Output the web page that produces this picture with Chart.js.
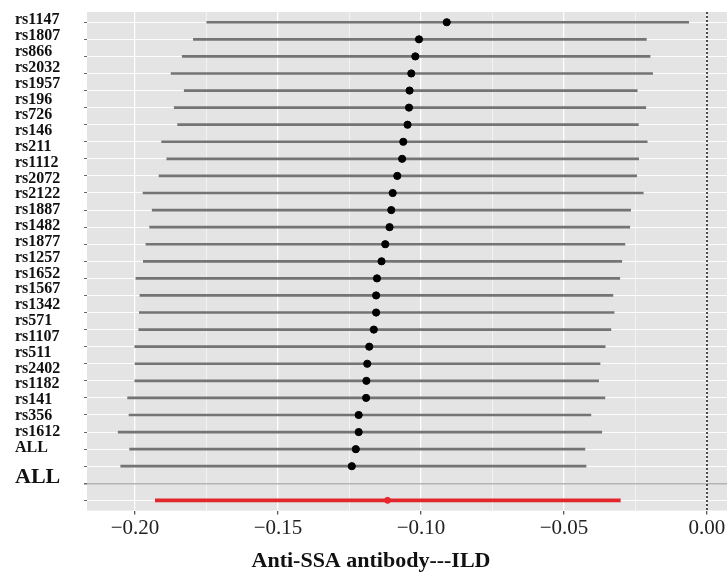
<!DOCTYPE html>
<html>
<head>
<meta charset="utf-8">
<script src="https://cdn.jsdelivr.net/npm/chart.js@4.4.1/dist/chart.umd.min.js"></script>
<style>
  body { margin: 0; background: #fff; overflow: hidden; }
</style>
</head>
<body>
<canvas id="forest" width="727" height="576"></canvas>
<script>
// labels shown on the left, top to bottom (last one is the overall label)
const snpLabels = ['rs1147', 'rs1807', 'rs866', 'rs2032', 'rs1957', 'rs196', 'rs726', 'rs146', 'rs211',
    'rs1112', 'rs2072', 'rs2122', 'rs1887', 'rs1482', 'rs1877', 'rs1257', 'rs1652', 'rs1567', 'rs1342',
    'rs571', 'rs1107', 'rs511', 'rs2402', 'rs1182', 'rs141', 'rs356', 'rs1612', 'ALL'];
const overallLabel = 'ALL';

// leave-one-out estimates and 95% CI
const estimate = [-0.0910, -0.1007, -0.1020, -0.1034, -0.1040, -0.1042, -0.1047, -0.1062, -0.1066,
    -0.1083, -0.1099, -0.1104, -0.1110, -0.1125, -0.1138, -0.1154, -0.1157, -0.1157, -0.1165,
    -0.1181, -0.1188, -0.1191, -0.1192, -0.1218, -0.1218, -0.1228, -0.1242];
const ciLow = [-0.1749, -0.1796, -0.1835, -0.1874, -0.1828, -0.1863, -0.1851, -0.1907, -0.1889,
    -0.1916, -0.1972, -0.1940, -0.1949, -0.1962, -0.1971, -0.1997, -0.1983, -0.1985, -0.1987,
    -0.2001, -0.2000, -0.2001, -0.2026, -0.2021, -0.2059, -0.2019, -0.2050];
const ciHigh = [-0.0064, -0.0212, -0.0199, -0.0190, -0.0244, -0.0214, -0.0240, -0.0209, -0.0239,
    -0.0246, -0.0223, -0.0267, -0.0270, -0.0287, -0.0298, -0.0305, -0.0329, -0.0325, -0.0336,
    -0.0356, -0.0374, -0.0379, -0.0357, -0.0406, -0.0368, -0.0427, -0.0423];

// overall (all SNPs) result
const allEstimate = [-0.1117];
const allLow = [-0.1929];
const allHigh = [-0.0303];

const xMajorTicks = [-0.2, -0.15, -0.1, -0.05, 0];
const xMinorTicks = [-0.175, -0.125, -0.075, -0.025];
const refValue = 0;

const FONT = "'Liberation Serif', 'Times New Roman', serif";
const nRows = estimate.length + 2;   // snp rows + separator + overall row
const yMin = 0.4, yMax = nRows + 0.6;

const isMajor = c => !!c.tick && xMajorTicks.includes(c.tick.value);
const isSep = c => !!c.tick && c.tick.value === nRows - 1;

const panelBg = {
    id: 'panelBg',
    beforeDraw(chart) {
        const { ctx, chartArea: a } = chart;
        ctx.save();
        ctx.fillStyle = '#e4e4e4';
        ctx.fillRect(a.left, a.top, a.right - a.left, a.bottom - a.top);
        ctx.restore();
    }
};

const rowTicks = [];
for (let i = 1; i <= nRows; i++) rowTicks.push(i);

new Chart(document.getElementById('forest'), {
    type: 'scatter',
    data: {
        datasets: [
            {
                data: estimate.map((v, i) => ({ x: v, y: i + 1 })),
                backgroundColor: '#000', borderColor: '#000',
                pointRadius: 3.6, yAxisID: 'y', order: 0
            },
            {
                data: allEstimate.map(v => ({ x: v, y: nRows })),
                backgroundColor: '#e8262b', borderColor: '#e8262b',
                pointRadius: 3, yAxisID: 'y', order: 0
            },
            {
                type: 'bar', indexAxis: 'y', grouped: false,
                data: ciLow.map((lo, i) => ({ x: [lo, ciHigh[i]], y: i + 1 })),
                backgroundColor: '#747474', borderWidth: 0, barThickness: 2,
                xAxisID: 'x', yAxisID: 'y', order: 1
            },
            {
                type: 'bar', indexAxis: 'y', grouped: false,
                data: allLow.map((lo, i) => ({ x: [lo, allHigh[i]], y: nRows })),
                backgroundColor: '#e3262b', borderWidth: 0, barThickness: 3,
                xAxisID: 'x', yAxisID: 'y', order: 1
            },
            {
                type: 'line',
                data: [{ x: refValue, y: yMin }, { x: refValue, y: yMax }],
                borderColor: '#3a3a3a', borderWidth: 1.8, borderDash: [2, 2],
                pointRadius: 0, yAxisID: 'y', order: 2
            }
        ]
    },
    options: {
        responsive: false,
        animation: false,
        layout: { autoPadding: false, padding: { left: 15, top: 12, right: 0, bottom: 0 } },
        plugins: {
            legend: { display: false },
            tooltip: { enabled: false },
            title: {
                display: true,
                position: 'bottom',
                text: 'Anti-SSA antibody---ILD',
                color: '#111',
                font: { family: FONT, size: 22, weight: 'bold' },
                padding: { top: 5, bottom: 1 }
            }
        },
        scales: {
            x: {
                type: 'linear',
                min: -0.2168, max: 0.007,
                offset: false,
                border: { display: false },
                grid: {
                    offset: false,
                    color: c => isMajor(c) ? 'rgba(255,255,255,0.95)' : 'rgba(255,255,255,0.55)',
                    lineWidth: c => isMajor(c) ? 1.3 : 1,
                    tickColor: c => isMajor(c) ? '#555' : 'rgba(0,0,0,0)',
                    tickLength: 4
                },
                ticks: {
                    autoSkip: false, maxRotation: 0, minRotation: 0, padding: 1,
                    color: '#222',
                    font: { family: FONT, size: 21 },
                    callback: v => {
                        if (!xMajorTicks.includes(v)) return '';
                        return v === 0 ? '0.00' : '\u2212' + Math.abs(v).toFixed(2);
                    }
                },
                afterBuildTicks: s => {
                    s.ticks = xMajorTicks.concat(xMinorTicks).sort((a, b) => a - b).map(v => ({ value: v }));
                },
                afterFit: s => { s.height = 33; s.paddingLeft = 0; s.paddingRight = 0; }
            },
            y: {
                type: 'linear',
                position: 'left',
                reverse: true,
                min: yMin, max: yMax,
                offset: false,
                weight: 0,
                border: { display: false },
                grid: {
                    offset: false,
                    color: c => isSep(c) ? '#b4b4b4' : 'rgba(255,255,255,0.9)',
                    lineWidth: c => isSep(c) ? 1.5 : 1,
                    tickColor: '#666', tickLength: 3
                },
                ticks: { callback: () => '', autoSkip: false, padding: 0 },
                afterBuildTicks: s => { s.ticks = rowTicks.map(v => ({ value: v })); },
                afterFit: s => { s.width = 4; s.paddingTop = 0; s.paddingBottom = 0; }
            },
            // row labels, drawn on their own axis (they sit a little tighter than the rows)
            yl: {
                type: 'linear',
                position: 'left',
                reverse: true,
                min: -0.525, max: 30.99,
                offset: false,
                weight: 1,
                border: { display: false },
                grid: { display: false, drawTicks: false },
                ticks: {
                    autoSkip: false, crossAlign: 'far', padding: 0,
                    color: '#111',
                    font: c => c.index === snpLabels.length
                        ? { family: FONT, size: 22, weight: 'bold' }
                        : { family: FONT, size: 16, weight: 'bold' },
                    callback: (v, i) => i < snpLabels.length ? snpLabels[i] : overallLabel
                },
                afterBuildTicks: s => {
                    const t = snpLabels.map((_, i) => ({ value: i }));
                    t.push({ value: snpLabels.length + 0.9 });
                    s.ticks = t;
                },
                afterFit: s => { s.width = 68; s.paddingTop = 0; s.paddingBottom = 0; }
            }
        }
    },
    plugins: [panelBg]
});
</script>
</body>
</html>
